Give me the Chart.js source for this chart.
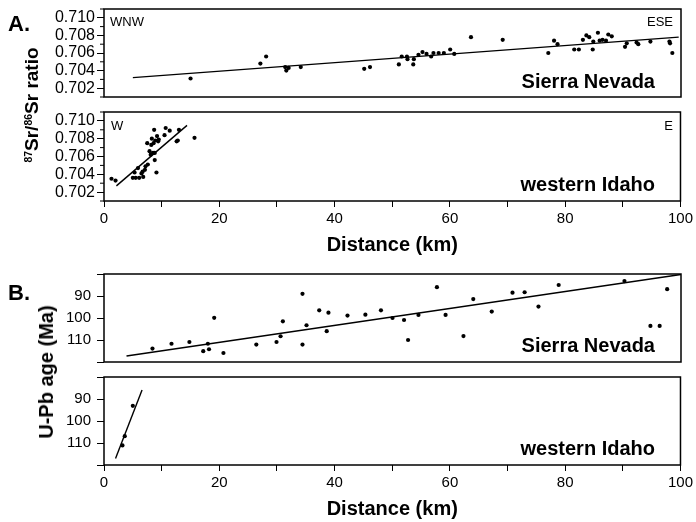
<!DOCTYPE html>
<html><head><meta charset="utf-8">
<script src="https://cdn.jsdelivr.net/npm/chart.js@4.4.1/dist/chart.umd.min.js"></script>
<style>
html,body{margin:0;padding:0;background:#fff;}
#wrap{position:relative;width:696px;height:522px;overflow:hidden;background:#fff;font-family:"Liberation Sans",Arial,sans-serif;color:#000;}
canvas{position:absolute;left:0;}
.t{position:absolute;line-height:1;white-space:nowrap;z-index:5;}
.b{font-weight:bold;}
.rot{position:absolute;line-height:1;white-space:nowrap;font-weight:bold;transform:translate(-50%,-50%) rotate(-90deg);z-index:5;}
sup{font-size:0.55em;position:relative;top:-0.6em;vertical-align:baseline;}
</style></head>
<body><div id="wrap">
<canvas id="cA1" width="696" height="120" style="top:-7px"></canvas>
<canvas id="cA2" width="696" height="161" style="top:96px"></canvas>
<canvas id="cB1" width="696" height="120" style="top:258px"></canvas>
<canvas id="cB2" width="696" height="160" style="top:361px"></canvas>

<div class="t b" style="left:8px;top:13px;font-size:22px;">A.</div>
<div class="t b" style="left:8px;top:282px;font-size:22px;">B.</div>
<div class="t" style="left:110px;top:15px;font-size:13px;">WNW</div>
<div class="t" style="right:23px;top:15px;font-size:13px;">ESE</div>
<div class="t" style="left:111px;top:119px;font-size:13px;">W</div>
<div class="t" style="right:23px;top:119px;font-size:13px;">E</div>
<div class="t b" style="right:41px;top:71px;font-size:20px;">Sierra Nevada</div>
<div class="t b" style="right:41px;top:174px;font-size:20px;">western Idaho</div>
<div class="t b" style="right:41px;top:335px;font-size:20px;">Sierra Nevada</div>
<div class="t b" style="right:41px;top:438px;font-size:20px;">western Idaho</div>
<div class="rot" style="left:31px;top:105px;font-size:19px;"><sup>87</sup>Sr/<sup>86</sup>Sr ratio</div>
<div class="rot" style="left:46px;top:372px;font-size:20px;">U-Pb age (Ma)</div>
</div>
<script>
// ---------- DATA ----------
// Panel A (top): Sierra Nevada, 87Sr/86Sr vs distance
const srSierraKm = [15.0,27.1,28.1,31.4,31.6,32.0,34.1,45.1,46.1,51.1,51.6,52.5,52.6,53.6,53.7,54.5,55.2,55.9,56.7,57.1,58.0,58.9,60.0,60.7,63.6,69.1,77.0,78.0,78.6,81.5,82.3,83.0,83.6,84.1,84.7,84.8,85.6,85.9,86.4,87.0,87.4,88.0,90.3,90.6,92.3,92.6,94.7,98.0,98.1,98.5];
const srSierraRatio = [0.7031,0.7048,0.7056,0.7044,0.7040,0.7043,0.7044,0.7042,0.7044,0.7047,0.7056,0.7056,0.7053,0.7047,0.7053,0.7058,0.7061,0.7059,0.7056,0.7060,0.7060,0.7060,0.7064,0.7059,0.7078,0.7075,0.7060,0.7074,0.7070,0.7064,0.7064,0.7075,0.7080,0.7078,0.7064,0.7073,0.7083,0.7074,0.7075,0.7074,0.7081,0.7079,0.7067,0.7071,0.7072,0.7070,0.7073,0.7073,0.7071,0.7060];
const srSierraFitKm = [5.0, 99.6];
const srSierraFitRatio = [0.7032, 0.7078];

// Panel A (bottom): western Idaho, 87Sr/86Sr vs distance
const srIdahoKm = [1.3,2.0,5.0,5.3,5.5,5.9,6.1,6.5,6.7,6.8,7.1,7.2,7.5,7.6,7.9,8.1,8.2,8.3,8.5,8.6,8.7,8.8,8.9,9.1,9.2,9.4,8.8,9.5,10.5,10.7,11.4,12.6,12.8,13.0,15.7];
const srIdahoRatio = [0.7035,0.7033,0.7036,0.7042,0.7036,0.7047,0.7036,0.7041,0.7043,0.7037,0.7045,0.7049,0.7075,0.7051,0.7066,0.7062,0.7073,0.7080,0.7064,0.7075,0.7090,0.7056,0.7078,0.7042,0.7083,0.7077,0.7064,0.7079,0.7084,0.7092,0.7089,0.7077,0.7078,0.7090,0.7081];
const srIdahoFitKm = [2.15, 14.4];
const srIdahoFitRatio = [0.7027, 0.7095];

// Panel B (top): Sierra Nevada, U-Pb age vs distance
const ageSierraKm = [8.4,11.7,14.8,17.2,18.0,18.2,19.1,20.7,26.4,29.9,30.6,31.0,34.4,34.4,35.1,37.3,38.6,38.9,42.2,45.3,48.0,50.0,52.0,52.7,54.5,57.7,59.2,62.3,64.0,67.2,70.8,72.9,75.3,78.8,90.2,94.7,96.3,97.6];
const ageSierraMa = [113.9,111.7,110.9,115.1,111.7,114.2,99.9,115.9,112.1,110.9,108.3,101.5,89.0,112.1,103.3,96.5,106.0,97.6,98.9,98.5,96.5,100.0,100.9,110.0,98.6,86.0,98.6,108.2,91.4,97.1,88.5,88.3,94.8,85.0,83.2,103.6,103.6,86.9];
const ageSierraFitKm = [3.9, 100];
const ageSierraFitMa = [117.3, 80.2];

// Panel B (bottom): western Idaho, U-Pb age vs distance
const ageIdahoKm = [3.2, 3.6, 5.0];
const ageIdahoMa = [111.1, 106.9, 93.1];
const ageIdahoFitKm = [2.0, 6.6];
const ageIdahoFitMa = [117.1, 85.9];

// Tick labels
const distanceTicks = [0, 20, 40, 60, 80, 100];
const srTicks = [0.702, 0.704, 0.706, 0.708, 0.710];
const ageTicks = [90, 100, 110];

// ---------- CHARTS ----------
Chart.defaults.font.family = '"Liberation Sans", Arial, sans-serif';
Chart.defaults.color = '#000';

const pts = (xs, ys) => xs.map((x, i) => ({x, y: ys[i]}));

const framePlugin = {
  id: 'frame',
  afterDraw(chart, args, opts) {
    const {ctx, chartArea: a} = chart;
    const y = chart.scales.y;
    ctx.save();
    ctx.strokeStyle = '#000';
    ctx.lineWidth = 1;
    if (opts.minorOdd) {
      y.ticks.forEach(t => {
        if (Math.round(t.value * 1000) % 2 === 1) {
          const p = y.getPixelForValue(t.value);
          ctx.beginPath(); ctx.moveTo(a.left - 4, p); ctx.lineTo(a.left, p); ctx.stroke();
        }
      });
    }
    ctx.lineWidth = 1.5;
    ctx.strokeRect(a.left, a.top, a.right - a.left, a.bottom - a.top);
    ctx.restore();
  }
};

function makeChart(id, cfg) {
  const isSr = cfg.kind === 'sr';
  const yScale = isSr ? {
    type: 'linear', min: 0.701, max: 0.711,
    afterFit: s => { s.width = 104; },
    ticks: {
      stepSize: 0.001, maxTicksLimit: 30, autoSkip: false, padding: 2, font: {size: 16},
      callback: v => srTicks.some(t => Math.abs(t - v) < 1e-6) ? v.toFixed(3) : ''
    },
    grid: {
      drawOnChartArea: false, drawTicks: true, tickLength: 7, tickWidth: 1,
      tickColor: c => (c.tick && Math.round(c.tick.value * 1000) % 2 === 1) ? 'rgba(0,0,0,0)' : '#000'
    },
    border: {display: false}
  } : {
    type: 'linear', min: 80, max: 120, reverse: true,
    afterFit: s => { s.width = 104; },
    ticks: {
      stepSize: 10, autoSkip: false, padding: 6, font: {size: 15},
      callback: v => ageTicks.includes(v) ? String(v) : ''
    },
    grid: {drawOnChartArea: false, drawTicks: true, tickLength: 7, tickWidth: 1, tickColor: '#000'},
    border: {display: false}
  };
  const xScale = {
    type: 'linear', min: 0, max: 100,
    display: cfg.showX,
    ticks: {
      stepSize: 10, autoSkip: false, maxRotation: 0, padding: 3, font: {size: 15},
      callback: v => distanceTicks.includes(v) ? String(v) : ''
    },
    grid: {drawOnChartArea: false, drawTicks: true, tickLength: 6, tickWidth: 1, tickColor: '#000'},
    border: {display: false},
    title: {display: true, text: 'Distance (km)', font: {size: 20, weight: 'bold'}, padding: 0, color: '#000'}
  };
  if (cfg.showX) xScale.afterFit = s => { s.height = 56; };
  return new Chart(document.getElementById(id), {
    type: 'scatter',
    data: {
      datasets: [
        {data: pts(cfg.xs, cfg.ys), backgroundColor: '#000', borderWidth: 0, pointRadius: 2.1, pointHoverRadius: 2.1},
        {data: pts(cfg.fx, cfg.fy), showLine: true, borderColor: '#000', borderWidth: 1.4, pointRadius: 0, fill: false}
      ]
    },
    options: {
      responsive: false, animation: false, events: [],
      layout: {padding: {top: 16, bottom: cfg.showX ? 0 : 16, left: 0, right: 15}},
      plugins: {legend: {display: false}, tooltip: {enabled: false}, frame: {minorOdd: isSr}},
      scales: {x: xScale, y: yScale}
    },
    plugins: [framePlugin]
  });
}

makeChart('cA1', {kind: 'sr', showX: false, xs: srSierraKm, ys: srSierraRatio, fx: srSierraFitKm, fy: srSierraFitRatio});
makeChart('cA2', {kind: 'sr', showX: true, xs: srIdahoKm, ys: srIdahoRatio, fx: srIdahoFitKm, fy: srIdahoFitRatio});
makeChart('cB1', {kind: 'age', showX: false, xs: ageSierraKm, ys: ageSierraMa, fx: ageSierraFitKm, fy: ageSierraFitMa});
makeChart('cB2', {kind: 'age', showX: true, xs: ageIdahoKm, ys: ageIdahoMa, fx: ageIdahoFitKm, fy: ageIdahoFitMa});
</script>
</body></html>
